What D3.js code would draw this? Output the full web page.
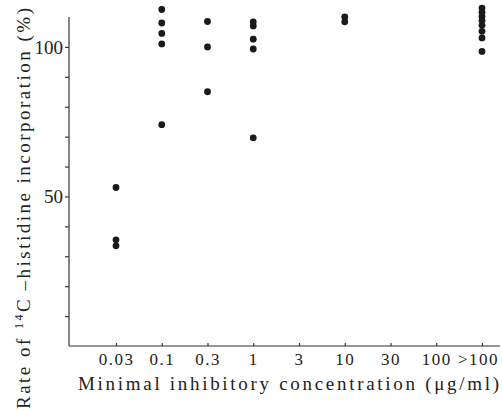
<!DOCTYPE html>
<html lang="en">
<head>
  <meta charset="UTF-8">
  <title>Histidine incorporation vs MIC</title>
  <style>
    body { margin: 0; background: #fff; }
    .axis path, .axis line { stroke: #333; stroke-width: 1.2; }
    .axis text { font-family: 'Liberation Serif', 'DejaVu Serif', serif; fill: #222; }
    .x.axis text { font-size: 17px; letter-spacing: 1.5px; }
    .y.axis text { font-size: 19px; }
    .label { font-family: 'Liberation Serif', 'DejaVu Serif', serif; fill: #222; font-size: 19px; }
    .dots circle { fill: #1a1a1a; }
  </style>
</head>
<body>
  <script src="https://d3js.org/d3.v7.min.js"></script>
  <script>
    // data: incorporation (%) per MIC class
    const categories = ['0.03', '0.1', '0.3', '1', '3', '10', '30', '100', '>100'];
    const mic003 = [53, 35.5, 33.5];
    const mic01 = [112.5, 108, 104.5, 101, 74];
    const mic03 = [108.5, 100, 85];
    const mic1 = [108.4, 107, 102.6, 99.3, 69.6];
    const mic10 = [110, 108.4];
    const micOver100 = [113, 111.6, 110.2, 108.8, 107.2, 105.2, 103, 98.5];
    const yTicks = [10, 20, 30, 40, 50, 60, 70, 80, 90, 100];
    const yLabelled = [50, 100];

    const points = [
      ...mic003.map(v => ['0.03', v]),
      ...mic01.map(v => ['0.1', v]),
      ...mic03.map(v => ['0.3', v]),
      ...mic1.map(v => ['1', v]),
      ...mic10.map(v => ['10', v]),
      ...micOver100.map(v => ['>100', v])
    ];

    const WIDTH = 502;
    const HEIGHT = 411;
    const margin = {top: 17, right: 2, bottom: 65, left: 69};
    const innerW = WIDTH - margin.left - margin.right;
    const innerH = HEIGHT - margin.top - margin.bottom;

    const svg = d3.select('body').append('svg')
      .attr('width', WIDTH)
      .attr('height', HEIGHT);

    const chart = svg.append('g')
      .attr('transform', `translate(${margin.left},${margin.top})`);

    const scaleX = d3.scalePoint().domain(categories).range([47, 413]);
    const scaleY = d3.scaleLinear().domain([0, 110]).range([innerH, 0]);

    const xAxis = d3.axisBottom(scaleX)
      .tickSizeInner(-3).tickSizeOuter(0).tickPadding(7);
    const yAxis = d3.axisLeft(scaleY)
      .tickValues(yTicks)
      .tickFormat(d => yLabelled.includes(d) ? d : '')
      .tickSizeInner(4).tickSizeOuter(0).tickPadding(2);

    const gx = chart.append('g')
      .attr('class', 'x axis')
      .attr('transform', `translate(0,${innerH})`)
      .call(xAxis);
    gx.select('.domain').attr('d', `M0,0H${innerW}`);
    // last label sits a little left of its tick, as in the print
    gx.selectAll('.tick text').filter(d => d === '>100').attr('dx', -4);

    const gy = chart.append('g')
      .attr('class', 'y axis')
      .call(yAxis);
    gy.select('.domain').attr('d', `M0,0V${innerH}`);

    chart.append('g').attr('class', 'dots')
      .selectAll('circle')
      .data(points)
      .join('circle')
      .attr('cx', d => scaleX(d[0]))
      .attr('cy', d => scaleY(d[1]))
      .attr('r', 3.4);

    // axis titles
    svg.append('text')
      .attr('class', 'label')
      .attr('x', 78)
      .attr('y', 390)
      .attr('textLength', 421)
      .attr('lengthAdjust', 'spacing')
      .text('Minimal inhibitory concentration (\u03bcg/ml)');

    const yl = svg.append('text')
      .attr('class', 'label')
      .attr('transform', 'translate(30,409) rotate(-90)')
      .attr('textLength', 401)
      .attr('lengthAdjust', 'spacing');
    yl.append('tspan').text('Rate of ');
    yl.append('tspan').attr('font-size', 12).attr('dy', -7).text('14');
    yl.append('tspan').attr('dy', 7).text('C\u2009\u2013histidine incorporation (%)');
  </script>
</body>
</html>
